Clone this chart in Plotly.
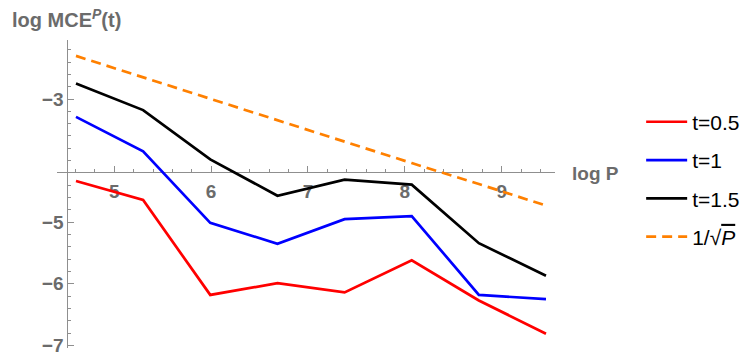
import plotly.graph_objects as go

# log P for P = 100, 200, 400, ..., 12800
log_p = [4.605, 5.298, 5.991, 6.685, 7.378, 8.071, 8.764, 9.457]

# log MCE^P(t) for each time t
mce_t05 = [-4.33, -4.64, -6.18, -5.99, -6.14, -5.62, -6.27, -6.81]
mce_t1 = [-3.29, -3.85, -5.01, -5.35, -4.95, -4.90, -6.18, -6.25]
mce_t15 = [-2.75, -3.18, -3.98, -4.57, -4.31, -4.39, -5.34, -5.87]
# reference rate 1/sqrt(P) on the log scale
ref_sqrt = [-2.30, -2.65, -3.00, -3.34, -3.69, -4.04, -4.38, -4.73]

series_names = ["t=0.5", "t=1", "t=1.5", "1/√<span style='text-decoration:overline'><i>P</i></span>"]

x_ticks = [5, 6, 7, 8, 9]
x_tick_text = ["5", "6", "7", "8", "9"]
y_ticks = [-7, -6, -5, -3]
y_tick_text = ["−7", "−6", "−5", "−3"]

AX = "#8f8f8f"
TXT = "#6b6b6b"
FONT = "Liberation Sans"
LW = 2.7

fig = go.Figure()
for i, (vals, col) in enumerate(zip([mce_t05, mce_t1, mce_t15], ["#ff0000", "#0000ff", "#000000"])):
    fig.add_trace(go.Scatter(x=log_p, y=vals, mode="lines", name=series_names[i],
                             legendgroup=str(i), line=dict(color=col, width=LW)))
fig.add_trace(go.Scatter(x=log_p, y=ref_sqrt, mode="lines", name=series_names[3],
                         legendgroup="3", line=dict(color="#ff8000", width=LW, dash="10px,6px")))

tick_font = dict(family=FONT, size=19, color=TXT, weight="bold")

fig.update_layout(
    width=747, height=353,
    margin=dict(l=57, r=192, t=40, b=5, autoexpand=False),
    plot_bgcolor="white", paper_bgcolor="white",
    showlegend=True,
    legend=dict(x=1.173, xanchor="left", y=0.80, yanchor="top",
                font=dict(family=FONT, size=21, color="#000000"),
                itemwidth=41, tracegroupgap=8, bgcolor="rgba(0,0,0,0)"),
    xaxis=dict(range=[4.409, 9.55], anchor="free", position=0.5704, automargin=False,
               showgrid=False, zeroline=False, showline=True, linecolor=AX, linewidth=1,
               ticks="inside", ticklen=6, tickcolor=AX, tickwidth=1,
               tickmode="array", tickvals=x_ticks, ticktext=x_tick_text,
               tickfont=tick_font, ticklabelstandoff=2, ticklabeloverflow="allow",
               layer="below traces",
               minor=dict(tickmode="linear", tick0=5, dtick=0.2, ticks="inside",
                          ticklen=3, tickcolor=AX, tickwidth=1, showgrid=False)),
    yaxis=dict(range=[-7.042, -2.042], anchor="free", position=0.0206, automargin=False,
               showgrid=False, zeroline=False, showline=True, linecolor=AX, linewidth=1,
               ticks="inside", ticklen=6, tickcolor=AX, tickwidth=1,
               tickmode="array", tickvals=y_ticks, ticktext=y_tick_text,
               tickfont=tick_font, ticklabelstandoff=0, ticklabeloverflow="allow",
               layer="below traces",
               minor=dict(tickmode="linear", tick0=-3, dtick=0.2, ticks="inside",
                          ticklen=3, tickcolor=AX, tickwidth=1, showgrid=False)),
    annotations=[
        dict(text="log MCE<sup><i>P</i></sup>(t)", xref="paper", yref="paper",
             x=-0.0937, y=1.0714, xanchor="left", yanchor="middle", showarrow=False,
             font=dict(family=FONT, size=20, color=TXT, weight="bold")),
        dict(text="log P", xref="paper", yref="paper",
             x=1.030, y=0.565, xanchor="left", yanchor="middle", showarrow=False,
             font=dict(family=FONT, size=19, color=TXT, weight="bold")),
    ],
)

fig.write_html("out.html")
